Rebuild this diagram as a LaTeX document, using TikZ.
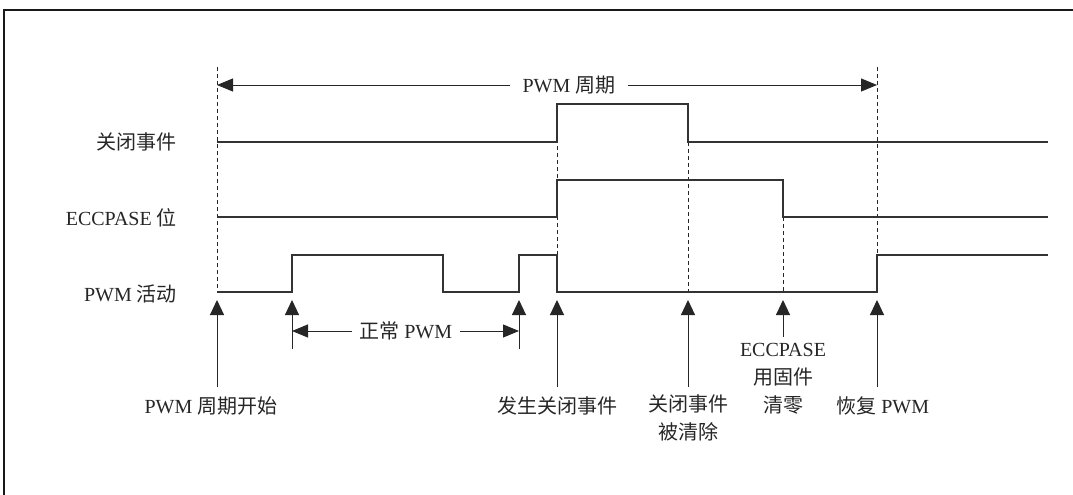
\documentclass[tikz,border=0pt]{standalone}
\usepackage{fontspec}
\setmainfont{Liberation Serif}
\newfontfamily\cjk{Noto Sans CJK SC}
\usetikzlibrary{arrows.meta, positioning}
\tikzset{
  frame/.style={draw=black!90, line width=2.2pt},
  signal/.style={draw=black!80, line width=1.1pt},
  guide/.style={draw=black!85, dashed, dash pattern=on 4pt off 3pt, line width=0.8pt},
  evarrow/.style={-{Triangle[length=15pt, width=14pt]}, draw=black!85, line width=1pt},
  spanarrow/.style={-{Triangle[length=16pt, width=13pt]}, draw=black!85, line width=1pt},
  siglabel/.style={anchor=east, inner sep=0pt, text=black!85,
                   font=\fontsize{20}{27}\selectfont},
  evlabel/.style={align=center, inner sep=0pt, text=black!85,
                  font=\fontsize{20}{28}\selectfont},
  spanlabel/.style={inner xsep=12pt, inner ysep=0pt, text=black!85,
                    font=\fontsize{20}{27}\selectfont},
}

\begin{document}
\begin{tikzpicture}[x=1pt, y=-1pt]
  \useasboundingbox (0,0) rectangle (1073,495);

  % frame
  \draw[frame] (4,495) -- (4,10) -- (1073,10);

  % signal names
  \node[siglabel] (lblshut) at (177,142) {\cjk 关闭事件};
  \node[siglabel] (lblase) at (177,218) {ECCPASE \cjk 位};
  \node[siglabel] (lblpwm) at (177,294) {PWM \cjk 活动};

  % dashed guides
  \draw[guide] (217,67) -- (217,292);
  \draw[guide] (877,67) -- (877,255);
  \draw[guide] (557,104) -- (557,292);
  \draw[guide] (688,142) -- (688,292);
  \draw[guide] (783,217) -- (783,292);

  % waveforms
  \draw[signal] (217,142) -- (557,142) -- (557,104) -- (688,104)
    -- (688,142) -- (1048,142);
  \draw[signal] (217,217) -- (557,217) -- (557,180) -- (783,180)
    -- (783,217) -- (1048,217);
  \draw[signal] (217,292) -- (292,292) -- (292,255) -- (443,255)
    -- (443,292) -- (519,292) -- (519,255) -- (557,255) -- (557,292)
    -- (877,292) -- (877,255) -- (1048,255);

  % PWM period
  \node[spanlabel] (period) at (569,85) {PWM \cjk 周期};
  \coordinate (pstart) at (217,85);
  \coordinate (pend) at (877,85);
  \draw[spanarrow] (period.west) -- (pstart);
  \draw[spanarrow] (period.east) -- (pend);

  % normal PWM
  \node[spanlabel, inner xsep=8pt] (normal) at (406,331) {\cjk 正常 \rmfamily PWM};
  \coordinate (nstart) at (292,331);
  \coordinate (nend) at (519,331);
  \draw[spanarrow] (normal.west) -- (nstart);
  \draw[spanarrow] (normal.east) -- (nend);

  % event arrows
  \foreach \n/\x/\yb in {start/217/387, rise/292/349, last/519/349,
                         shut/557/387, clear/688/387, ase/783/337, resume/877/387} {
    \coordinate (foot-\n) at (\x,\yb);
    \coordinate (tip-\n) at (\x,300);
    \draw[evarrow] (foot-\n) -- (tip-\n);
  }

  % event labels
  \node[evlabel] (evstart) at (211,406) {PWM \cjk 周期开始};
  \node[evlabel] (evshut) at (557,406) {\cjk 发生关闭事件};
  \node[evlabel] (evclear) at (688,418) {\cjk 关闭事件\\\cjk 被清除};
  \node[evlabel] (evase) at (783,379) {ECCPASE\\\cjk 用固件\\\cjk 清零};
  \node[evlabel] (evresume) at (883,406) {\cjk 恢复 \rmfamily PWM};

\end{tikzpicture}
\end{document}
